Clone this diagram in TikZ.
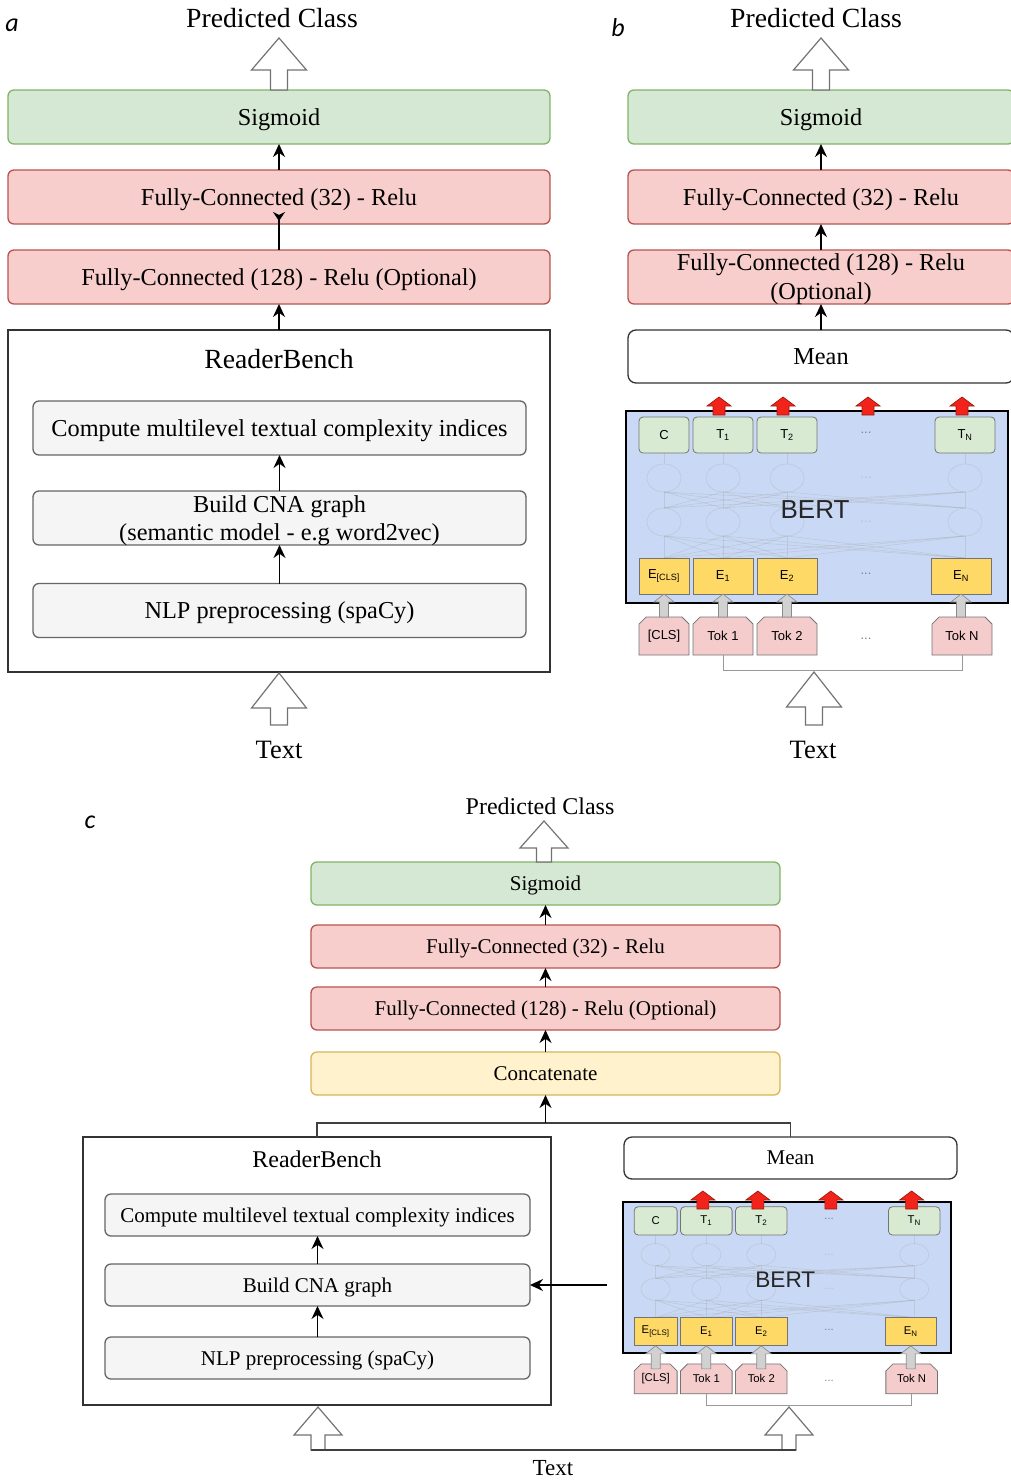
\documentclass[tikz,border=0pt]{standalone}
\usepackage{fontspec}
\setmainfont{Liberation Serif}
\newfontfamily\bertfont{Liberation Sans}
\newfontfamily\letterfont{Carlito}
\usetikzlibrary{arrows.meta,shapes.misc}

\definecolor{sigfill}{HTML}{D5E8D4}
\definecolor{sigline}{HTML}{82B366}
\definecolor{fcfill}{HTML}{F8CECC}
\definecolor{fcline}{HTML}{B85450}
\definecolor{catfill}{HTML}{FFF2CC}
\definecolor{catline}{HTML}{D6B656}
\definecolor{stagefill}{HTML}{F5F5F5}
\definecolor{stageline}{HTML}{666666}
\definecolor{bertfill}{HTML}{C9D9F5}
\definecolor{topfill}{HTML}{D9EAD3}
\definecolor{embfill}{HTML}{FFD966}
\definecolor{tokfill}{HTML}{F4CCCC}
\definecolor{redfill}{HTML}{F2231A}
\definecolor{redline}{HTML}{9B1B12}

\newcommand{\boxfs}{\fontsize{24.3}{29}\selectfont}
\newcommand{\headfs}{\fontsize{27.7}{32}\selectfont}
\newcommand{\boxfsc}{\fontsize{21}{24}\selectfont}
\newcommand{\headfsc}{\fontsize{24}{28}\selectfont}

\tikzset{
  box/.style={draw, line width=1.3pt, rounded corners=6pt, outer sep=0pt, inner sep=0pt, align=center, text depth=0pt},
  sigbox/.style={box, fill=sigfill, draw=sigline},
  fcbox/.style={box, fill=fcfill, draw=fcline},
  catbox/.style={box, fill=catfill, draw=catline},
  meanbox/.style={box, fill=white, draw=black!80, rounded corners=8pt},
  stagebox/.style={box, fill=stagefill, draw=stageline},
  rbbox/.style={draw=black!80, line width=1.6pt, outer sep=0pt, inner sep=0pt},
  arr/.style={-{Stealth[length=13pt,width=12pt]}, line width=1.7pt},
  hollow/.style={draw=black!55, fill=white, line width=1.2pt},
  redup/.style={draw=redline, fill=redfill, line width=0.7pt},
  grayup/.style={draw=black!45, fill=black!18, line width=0.7pt},
  bertbox/.style={draw=black, fill=bertfill, line width=2.6pt, outer sep=0pt},
  tokbase/.style={draw=black!55, line width=0.8pt, inner sep=0pt, outer sep=0pt},
  toptok/.style={tokbase, fill=topfill, rounded corners=4pt},
  embtok/.style={tokbase, fill=embfill},
  inptok/.style={tokbase, fill=tokfill, chamfered rectangle, chamfered rectangle corners={north west,north east}, chamfered rectangle xsep=4pt},
  ghost/.style={draw=black!35, line width=0.6pt, opacity=0.35},
  pics/uparrow/.style args={#1/#2/#3/#4}{code={
    \draw[pic actions] (0,0) -- ({#2/2},#3) -- ({#4/2},#3) -- ({#4/2},#1)
      -- ({-#4/2},#1) -- ({-#4/2},#3) -- ({-#2/2},#3) -- cycle;}},
}

% BERT block: prefix, x, y (top left), xscale, yscale, font scale
\newcommand{\bertblock}[6]{%
\begin{scope}[shift={(#2,#3)}, xscale=#4, yscale=#5]
\pgfmathsetmacro{\bw}{#4}%
\pgfmathsetmacro{\bh}{#5}%
\pgfmathsetmacro{\tfs}{13*#6}%
\pgfmathsetmacro{\lfs}{26*#6}%
\node[bertbox, anchor=north west, minimum width=382*\bw, minimum height=192*\bh] (#1bert) at (0,0) {};
% hidden layers, barely visible
\foreach \xa in {38,97,161,339} {
  \foreach \xb in {38,97,161,339} {
    \draw[ghost] (\xa,147) -- (\xb,125);
    \draw[ghost] (\xa,97) -- (\xb,81);
  }
  \draw[ghost] (\xa,53) -- (\xa,42);
  \draw[ghost] (\xa,67) ellipse [x radius=17, y radius=14];
  \draw[ghost] (\xa,111) ellipse [x radius=17, y radius=14];
}
\node[font=\bertfont\fontsize{\tfs}{\tfs}\selectfont, text=black!25] (#1dhida) at (240,67) {...};
\node[font=\bertfont\fontsize{\tfs}{\tfs}\selectfont, text=black!25] (#1dhidb) at (240,111) {...};
\node[font=\bertfont\fontsize{\lfs}{\lfs}\selectfont, text=black!85] (#1label) at (189,99) {BERT};
% output tokens
\foreach \n/\xc/\w/\t in {c/38/50/C, t1/97/60/{T\textsubscript{1}}, t2/161/60/{T\textsubscript{2}}, tn/339/60/{T\textsubscript{N}}}
  \node[toptok, minimum width=\w*\bw, minimum height=36*\bh, font=\bertfont\fontsize{\tfs}{\tfs}\selectfont] (#1\n) at (\xc,24) {\t};
% embeddings
\foreach \n/\xc/\w/\t in {e0/38/50/{E\textsubscript{[CLS]}}, e1/97/60/{E\textsubscript{1}}, e2/161/60/{E\textsubscript{2}}, en/335/60/{E\textsubscript{N}}}
  \node[embtok, minimum width=\w*\bw, minimum height=36*\bh, font=\bertfont\fontsize{\tfs}{\tfs}\selectfont] (#1\n) at (\xc,165) {\t};
% input tokens
\foreach \n/\xc/\w/\t in {k0/38/50/{[CLS]}, k1/97/60/{Tok 1}, k2/161/60/{Tok 2}, kn/336/60/{Tok N}}
  \node[inptok, minimum width=\w*\bw, minimum height=38*\bh, font=\bertfont\fontsize{\tfs}{\tfs}\selectfont] (#1\n) at (\xc,225) {\t};
\node[font=\bertfont\fontsize{\tfs}{\tfs}\selectfont, text=black!50] (#1dtop) at (240,22) {...};
\node[font=\bertfont\fontsize{\tfs}{\tfs}\selectfont, text=black!50] (#1demb) at (240,163) {...};
\node[font=\bertfont\fontsize{\tfs}{\tfs}\selectfont, text=black!50] (#1dinp) at (240,228) {...};
\foreach \n in {0,1,2,n}
  \pic[grayup] at (#1e\n.south) {uparrow=23/20/8/9};
\foreach \xc in {93,157,242,336}
  \pic[redup] at (\xc,-14) {uparrow=18/24/9/12};
\draw[draw=black!40, line width=1pt] (#1k1.south) -- ++(0,15) -| (#1kn.south);
\end{scope}}

\begin{document}
\begin{tikzpicture}[x=1pt, y=-1pt]
\useasboundingbox (0,0) rectangle (1011,1480);

% ---- panel a ----
\node[font=\letterfont\itshape\fontsize{26}{26}\selectfont] (laba) at (12,25) {a};
\node[font=\headfs] (pca) at (272,18) {Predicted Class};
\node[sigbox, minimum width=542, minimum height=54, font=\boxfs] (siga) at (279,117) {Sigmoid};
\node[fcbox, minimum width=542, minimum height=54, font=\boxfs] (fc32a) at (279,197) {Fully-Connected (32) - Relu};
\node[fcbox, minimum width=542, minimum height=54, font=\boxfs] (fc128a) at (279,277) {Fully-Connected (128) - Relu (Optional)};
\node[rbbox, minimum width=542, minimum height=342] (rba) at (279,501) {};
\node[font=\headfs] (rbta) at (279,359) {ReaderBench};
\node[stagebox, minimum width=493, minimum height=54, font=\boxfs] (cmpa) at (279.5,428) {Compute multilevel textual complexity indices};
\node[stagebox, minimum width=493, minimum height=54, font=\fontsize{24.3}{28}\selectfont] (cnaa) at (279.5,518) {Build CNA graph\\(semantic model - e.g word2vec)};
\node[stagebox, minimum width=493, minimum height=54, font=\boxfs] (nlpa) at (279.5,610.5) {NLP preprocessing (spaCy)};
\node[font=\fontsize{26.5}{30}\selectfont] (txta) at (279,750) {Text};

\pic[hollow] at (279,38) {uparrow=52/55/32/17};
\pic[hollow] at (279,673) {uparrow=52/55/35/17};
\draw[arr] (fc32a) -- (siga);
\draw[line width=1.7pt, -{Stealth[length=9pt,width=12pt,reversed]}] (fc128a.north) -- ([yshift=12pt]fc32a.south);
\draw[arr] (rba) -- (fc128a);
\draw[arr] (cnaa) -- (cmpa);
\draw[arr] (nlpa) -- (cnaa);

% ---- panel b ----
\node[font=\letterfont\itshape\fontsize{26}{26}\selectfont] (labb) at (618,28) {b};
\node[font=\headfs] (pcb) at (816,18) {Predicted Class};
\node[sigbox, minimum width=386, minimum height=54, font=\boxfs] (sigb) at (821,117) {Sigmoid};
\node[fcbox, minimum width=386, minimum height=54, font=\boxfs] (fc32b) at (821,197) {Fully-Connected (32) - Relu};
\node[fcbox, minimum width=386, minimum height=54, font=\boxfs] (fc128b) at (821,277) {Fully-Connected (128) - Relu\\(Optional)};
\node[meanbox, minimum width=386, minimum height=53, font=\boxfs] (meanb) at (821,356.5) {Mean};
\bertblock{b}{626}{411}{1}{1}{1}
\node[font=\fontsize{26.5}{30}\selectfont] (txtb) at (813,750) {Text};

\pic[hollow] at (821,38) {uparrow=52/55/32/17};
\pic[hollow] at (814,672) {uparrow=53/55/35/17};
\draw[arr] (fc32b) -- (sigb);
\draw[arr] (fc128b) -- (fc32b);
\draw[arr] (meanb) -- (fc128b);

% ---- panel c ----
\node[font=\letterfont\itshape\fontsize{26}{26}\selectfont] (labc) at (90,822) {c};
\node[font=\headfsc] (pcc) at (540,806) {Predicted Class};
\node[sigbox, minimum width=469, minimum height=43, font=\boxfsc] (sigc) at (545.5,883.5) {Sigmoid};
\node[fcbox, minimum width=469, minimum height=43, font=\boxfsc] (fc32c) at (545.5,946.5) {Fully-Connected (32) - Relu};
\node[fcbox, minimum width=469, minimum height=43, font=\boxfsc] (fc128c) at (545.5,1008.5) {Fully-Connected (128) - Relu (Optional)};
\node[catbox, minimum width=469, minimum height=43, font=\boxfsc] (catc) at (545.5,1073.5) {Concatenate};
\coordinate (mergec) at (545.5,1123);
\node[rbbox, minimum width=468, minimum height=268] (rbc) at (317,1271) {};
\node[font=\headfsc] (rbtc) at (317,1159) {ReaderBench};
\node[stagebox, minimum width=425, minimum height=42, font=\boxfsc] (cmpc) at (317.5,1215) {Compute multilevel textual complexity indices};
\node[stagebox, minimum width=425, minimum height=42, font=\boxfsc] (cnac) at (317.5,1285) {Build CNA graph};
\node[stagebox, minimum width=425, minimum height=42, font=\boxfsc] (nlpc) at (317.5,1358) {NLP preprocessing (spaCy)};
\node[meanbox, minimum width=333, minimum height=42, font=\boxfsc] (meanc) at (790.5,1158) {Mean};
\bertblock{c}{623}{1202}{0.859}{0.786}{0.87}
\coordinate (bertin) at (607,1285);
\node[font=\fontsize{23}{26}\selectfont] (txtc) at (553,1468) {Text};

\pic[hollow] at (544,821) {uparrow=41/48/27/15};
\pic[hollow] at (318,1407) {uparrow=43/48/28/14};
\pic[hollow] at (789,1407) {uparrow=43/48/28/14};
\draw[line width=1.6pt, black!75] (311,1450) -- (796,1450);
\draw[arr] (fc32c) -- (sigc);
\draw[arr] (fc128c) -- (fc32c);
\draw[arr] (catc) -- (fc128c);
\draw[line width=1.4pt, black!75] (rbc.north) |- (mergec) -| (meanc.north);
\draw[arr] (mergec) -- (catc);
\draw[arr] (cnac) -- (cmpc);
\draw[arr] (nlpc) -- (cnac);
\draw[arr] (bertin) -- (cnac);
\end{tikzpicture}
\end{document}
